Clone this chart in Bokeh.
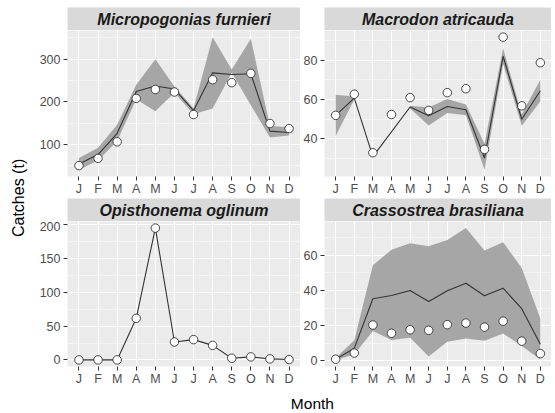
from math import pi
from bokeh.plotting import figure
from bokeh.layouts import row, column
from bokeh.models import Range1d, FixedTicker, ColumnDataSource
from bokeh.core.properties import value
from bokeh.embed import file_html
from bokeh.resources import INLINE

# ---------------- data ----------------
months = ["J", "F", "M", "A", "M", "J", "J", "A", "S", "O", "N", "D"]
species = ["Micropogonias furnieri", "Macrodon atricauda",
           "Opisthonema oglinum", "Crassostrea brasiliana"]
y_title = "Catches (t)"
x_title = "Month"

# Micropogonias furnieri
obs1 = [50, 67, 106, 208, 229, 223, 170, 252, 245, 267, 149, 137]
fit1 = [54, 76, 126, 224, 237, 230, 179, 268, 264, 266, 131, 128]
lo1 = [40, 62, 108, 206, 178, 221, 171, 184, 268, 192, 116, 121]
hi1 = [68, 92, 146, 240, 300, 236, 185, 352, 276, 348, 143, 140]
ticks1 = [100, 200, 300]
minor1 = [50, 150, 250, 350]

# Macrodon atricauda
obs2 = [52, 62.7, 33, 52.4, 61, 54.5, 63.5, 65.5, 34.7, 91.7, 56.8, 78.7]
fit2 = [52, 60.7, 31, None, 56.2, 51.8, 56.5, 54.8, 30.3, 82, 50, 64.5]
lo2 = [41.5, 60, None, None, 55.5, 46.8, 53.2, 52, 24.3, 78, 46.7, 59]
hi2 = [62.5, 61.5, None, None, 56.8, 56, 60.3, 57.5, 37.5, 86, 52.5, 70]
ticks2 = [40, 60, 80]
minor2 = [30, 50, 70, 90]

# Opisthonema oglinum
obs3 = [0, 0, 0, 61.5, 195, 26.5, 30, 21.5, 2.5, 4.5, 1.5, 0.5]
fit3 = [0, 0, 0, 61.5, 195, 26.5, 30, 21.5, 2.5, 4.5, 1.5, 0.5]
lo3 = None
hi3 = None
ticks3 = [0, 50, 100, 150, 200]
minor3 = [25, 75, 125, 175]

# Crassostrea brasiliana
obs4 = [0.8, 4.3, 20.3, 15.6, 17.6, 17.3, 20.5, 21.4, 19.1, 22.5, 11.1, 4]
fit4 = [0.8, 7, 35.3, 37.1, 40, 33.7, 39.8, 44.1, 37, 41.3, 29.6, 9.4]
lo4 = [0.4, 3.5, 16.9, 11.8, 13.1, 2.4, 10.7, 12.6, 11.3, 15.4, 8.4, 0.6]
hi4 = [1.5, 11.6, 54.4, 63.2, 66.9, 65.2, 68.8, 75.6, 62.8, 67.5, 52.9, 24]
ticks4 = [0, 20, 40, 60]
minor4 = [10, 30, 50, 70]

# ---------------- style ----------------
FONT = "Liberation Sans"
PANEL_BG = "#EBEBEB"
STRIP_BG = "#D9D9D9"
RIBBON = "#A6A6A6"
LINE = "#333333"
TICK_TXT = "#4D4D4D"

YL_W = 36
LEFT_W, RIGHT_W = 264, 251
LEFT_B, RIGHT_B = 28, 24


def segments(xs, *arrays):
    """split indices into runs where all arrays are not None"""
    segs, cur = [], []
    for i in range(len(xs)):
        if all(a[i] is not None for a in arrays):
            cur.append(i)
        else:
            if cur:
                segs.append(cur)
            cur = []
    if cur:
        segs.append(cur)
    return segs


def strip(name, width, border_left, height, border_top=0):
    s = figure(width=width, height=height, title=None, toolbar_location=None,
               output_backend="svg", x_range=Range1d(0, 1), y_range=Range1d(0, 1),
               x_axis_type=None, y_axis_type=None,
               min_border=0, min_border_left=border_left, min_border_right=0,
               min_border_top=border_top,
               background_fill_color=STRIP_BG, border_fill_color="white",
               outline_line_color=None)
    s.grid.visible = False
    src = ColumnDataSource(dict(x=[0.5], y=[0.5], t=[name]))
    s.text(x="x", y="y", text="t", source=src, text_align="center",
           text_baseline="middle", text_font=value(FONT),
           text_font_style="bold italic", text_font_size="16px",
           text_color="#1A1A1A")
    return s


def panel(obs, fit, lo, hi, ticks, minor, width, border_left, height):
    vals = [v for arr in (obs, fit, lo, hi) if arr for v in arr if v is not None]
    ymin, ymax = min(vals), max(vals)
    pad = 0.05 * (ymax - ymin)
    p = figure(width=width, height=height, title=None, toolbar_location=None,
               output_backend="svg", x_range=Range1d(0.4, 12.6),
               y_range=Range1d(ymin - pad, ymax + pad),
               min_border=0, min_border_left=border_left, min_border_right=0,
               min_border_bottom=20,
               background_fill_color=PANEL_BG, border_fill_color="white",
               outline_line_color=None)
    xs = list(range(1, len(months) + 1))
    if lo is not None:
        for seg in segments(xs, lo, hi):
            p.varea(x=[xs[i] for i in seg], y1=[lo[i] for i in seg],
                    y2=[hi[i] for i in seg], fill_color=RIBBON, fill_alpha=1.0)
    fx = [xs[i] for i in range(len(xs)) if fit[i] is not None]
    fy = [fit[i] for i in range(len(xs)) if fit[i] is not None]
    p.line(fx, fy, line_color=LINE, line_width=1.1)
    p.scatter(xs, obs, size=8.5, fill_color="white", line_color=LINE,
              line_width=0.9)

    p.xaxis.ticker = FixedTicker(ticks=xs)
    p.xaxis.major_label_overrides = {x: m for x, m in zip(xs, months)}
    p.yaxis.ticker = FixedTicker(ticks=ticks, minor_ticks=minor)
    p.xgrid.ticker = FixedTicker(ticks=xs)
    p.ygrid.ticker = FixedTicker(ticks=ticks, minor_ticks=minor)
    p.grid.grid_line_color = "white"
    p.grid.grid_line_width = 1.1
    p.ygrid.minor_grid_line_color = "white"
    p.ygrid.minor_grid_line_width = 0.5
    for ax in (p.xaxis[0], p.yaxis[0]):
        ax.axis_line_color = None
        ax.major_tick_line_color = LINE
        ax.major_tick_in = 0
        ax.major_tick_out = 4
        ax.minor_tick_line_color = None
        ax.major_label_text_font = FONT
        ax.major_label_text_font_size = "12.5px"
        ax.major_label_text_color = TICK_TXT
    p.xaxis.major_label_standoff = 1
    p.yaxis.major_label_standoff = 3
    return p


s1 = strip(species[0], LEFT_W, LEFT_B, 30, border_top=7)
s2 = strip(species[1], RIGHT_W, RIGHT_B, 30, border_top=7)
s3 = strip(species[2], LEFT_W, LEFT_B, 23)
s4 = strip(species[3], RIGHT_W, RIGHT_B, 23)

p1 = panel(obs1, fit1, lo1, hi1, ticks1, minor1, LEFT_W, LEFT_B, 168)
p2 = panel(obs2, fit2, lo2, hi2, ticks2, minor2, RIGHT_W, RIGHT_B, 168)
p3 = panel(obs3, fit3, lo3, hi3, ticks3, minor3, LEFT_W, LEFT_B, 167)
p4 = panel(obs4, fit4, lo4, hi4, ticks4, minor4, RIGHT_W, RIGHT_B, 167)

TOTAL_H = 30 + 168 + 23 + 167 + 25

# y title
yl = figure(width=YL_W, height=TOTAL_H, title=None, toolbar_location=None,
            output_backend="svg", x_range=Range1d(0, 1), y_range=Range1d(0, 1),
            x_axis_type=None, y_axis_type=None, min_border=0,
            background_fill_color="white", border_fill_color="white",
            outline_line_color=None)
yl.grid.visible = False
yl.text(x=[0.5], y=[0.522], text=[y_title], angle=pi / 2, text_align="center",
        text_baseline="middle", text_font=value(FONT), text_font_size="16px",
        text_color="black")

# x title
xl = figure(width=LEFT_W + RIGHT_W, height=25, title=None, toolbar_location=None,
            output_backend="svg", x_range=Range1d(0, 1), y_range=Range1d(0, 1),
            x_axis_type=None, y_axis_type=None, min_border=0,
            min_border_left=LEFT_B, min_border_right=0,
            background_fill_color="white", border_fill_color="white",
            outline_line_color=None)
xl.grid.visible = False
xl.text(x=[0.509], y=[0.42], text=[x_title], text_align="center",
        text_baseline="middle", text_font=value(FONT), text_font_size="15.5px",
        text_color="black")

grid = column(
    row(column(s1, p1), column(s2, p2)),
    row(column(s3, p3), column(s4, p4)),
    xl,
)
layout = row(yl, grid)

open("out.html", "w").write(file_html(layout, INLINE))
